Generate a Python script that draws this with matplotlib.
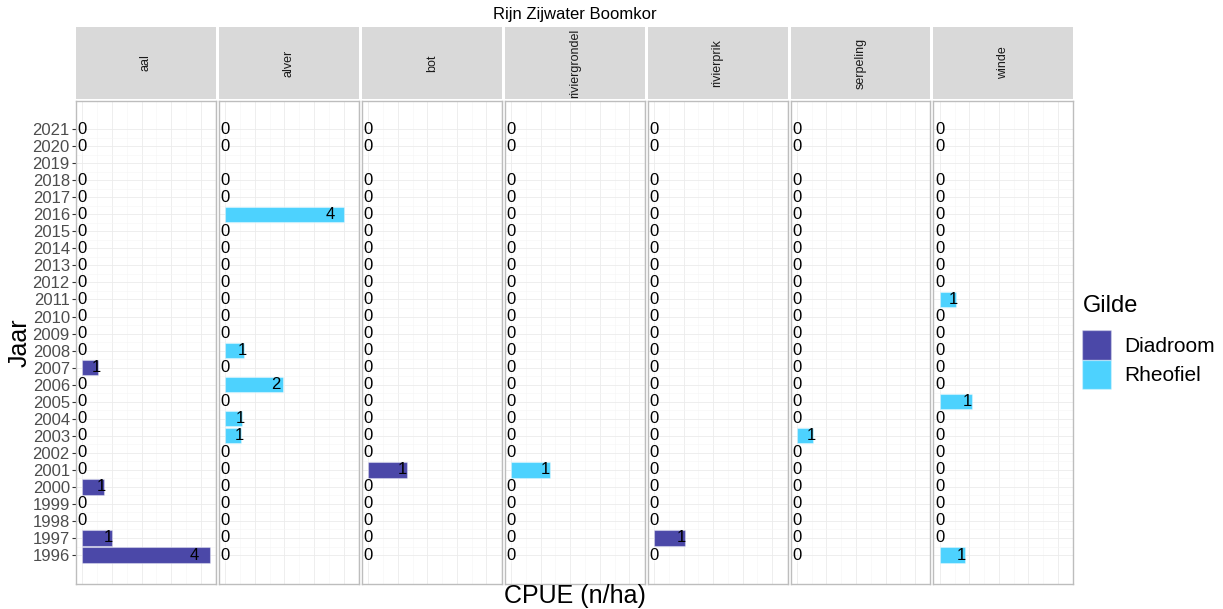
import matplotlib
matplotlib.use("Agg")
import matplotlib.pyplot as plt
from matplotlib.patches import Patch
import numpy as np

plt.rcParams['font.family'] = ['Liberation Sans', 'DejaVu Sans']

years = list(range(1996, 2022))
soorten = ["aal", "alver", "bot", "riviergrondel", "rivierprik", "serpeling", "winde"]
gilde = ["Diadroom", "Rheofiel", "Diadroom", "Rheofiel", "Diadroom", "Rheofiel", "Rheofiel"]
kleuren = {"Diadroom": "#4B48A8", "Rheofiel": "#4DD2FE"}

nan = np.nan
# CPUE per jaar (1996..2021), 2019 ontbreekt
aal = [4.3, 1.0, 0, 0, 0.74, 0, 0, 0, 0, 0, 0, 0.52, 0, 0, 0, 0, 0, 0, 0, 0, 0, 0, 0, nan, 0, 0]
alver = [0, 0, 0, 0, 0, 0, 0, 0.54, 0.57, 0, 1.96, 0, 0.64, 0, 0, 0, 0, 0, 0, 0, 4.02, 0, 0, nan, 0, 0]
bot = [0, 0, 0, 0, 0, 1.32, 0, 0, 0, 0, 0, 0, 0, 0, 0, 0, 0, 0, 0, 0, 0, 0, 0, nan, 0, 0]
riviergrondel = [0, 0, 0, 0, 0, 1.32, 0, 0, 0, 0, 0, 0, 0, 0, 0, 0, 0, 0, 0, 0, 0, 0, 0, nan, 0, 0]
rivierprik = [0, 1.05, 0, 0, 0, 0, 0, 0, 0, 0, 0, 0, 0, 0, 0, 0, 0, 0, 0, 0, 0, 0, 0, nan, 0, 0]
serpeling = [0, 0, 0, 0, 0, 0, 0, 0.54, 0, 0, 0, 0, 0, 0, 0, 0, 0, 0, 0, 0, 0, 0, 0, nan, 0, 0]
winde = [0.84, 0, 0, 0, 0, 0, 0, 0, 0, 1.08, 0, 0, 0, 0, 0, 0.54, 0, 0, 0, 0, 0, 0, 0, nan, 0, 0]
waarden = [aal, alver, bot, riviergrondel, rivierprik, serpeling, winde]

W, H = 1223, 609
fig = plt.figure(figsize=(W / 100, H / 100), dpi=100)

xmax = np.nanmax([np.nanmax(v) for v in waarden])
xlim = (-0.05 * xmax, 1.05 * xmax)

left0 = 76
pw = 139.9
gap = 3.0
ptop, pbot = 101, 584
stop, sbot = 27, 99

for i, (naam, vals) in enumerate(zip(soorten, waarden)):
    x0 = left0 + i * (pw + gap)
    ax = fig.add_axes([x0 / W, (H - pbot) / H, pw / W, (pbot - ptop) / H])
    kleur = kleuren[gilde[i]]
    vals = np.array(vals, dtype=float)
    mask = ~np.isnan(vals)
    yr = np.array(years)
    ax.barh(yr[mask], vals[mask], height=0.9, color=kleur,
            edgecolor=(1, 1, 1, 0.35), linewidth=0.8, zorder=2)
    for y, v in zip(yr[mask], vals[mask]):
        ax.text(0.88 * v, y, f"{int(round(v))}", ha="center", va="center",
                fontsize=12, color="black", zorder=3)
    ax.set_xlim(xlim)
    ax.set_ylim(1996 - 1.7, 2021 + 1.65)
    ax.set_xticks(np.arange(0, 5, 1))
    ax.set_xticks(np.arange(0.5, 4.6, 1), minor=True)
    ax.set_yticks(years)
    ax.set_yticks(np.arange(1996.5, 2021, 1), minor=True)
    ax.grid(which="major", color="#EBEBEB", linewidth=0.6, zorder=0)
    ax.grid(which="minor", color="#F5F5F5", linewidth=0.4, zorder=0)
    ax.set_axisbelow(True)
    ax.tick_params(axis="x", which="both", length=0, labelbottom=False)
    ax.tick_params(axis="y", which="minor", length=0)
    if i == 0:
        ax.set_yticklabels([str(y) for y in years])
        ax.tick_params(axis="y", which="major", length=3, color="#333333",
                       labelsize=12, labelcolor="#4D4D4D", pad=1.5)
    else:
        ax.tick_params(axis="y", which="major", length=0, labelleft=False)
    for s in ax.spines.values():
        s.set_color("#BDBDBD")
        s.set_linewidth(1.0)

    sax = fig.add_axes([x0 / W, (H - sbot) / H, pw / W, (sbot - stop) / H])
    sax.set_facecolor("#D9D9D9")
    sax.set_xticks([])
    sax.set_yticks([])
    for s in sax.spines.values():
        s.set_visible(False)
    sax.text(0.5, 0.5, naam, rotation=90, ha="center", va="center",
             fontsize=9, color="#1A1A1A", transform=sax.transAxes)

fig.text(575 / W, 1 - 15 / H, "Rijn Zijwater Boomkor", ha="center", va="center",
         fontsize=12)
fig.text(575 / W, 1 - 596 / H, "CPUE (n/ha)", ha="center", va="center", fontsize=18)
fig.text(20 / W, 1 - 343 / H, "Jaar", ha="center", va="center", fontsize=18,
         rotation=90)

fig.text(1083 / W, 1 - 306 / H, "Gilde", ha="left", va="center", fontsize=17)
handles = [Patch(facecolor=kleuren[g], edgecolor=(1, 1, 1, 0.35), label=g)
           for g in ["Diadroom", "Rheofiel"]]
leg = fig.legend(handles=handles, loc="upper left",
                 bbox_to_anchor=(1080 / W, 1 - 328 / H), frameon=False,
                 fontsize=15, handlelength=1.4, handleheight=1.8,
                 labelspacing=0.0, handletextpad=0.6, borderaxespad=0,
                 borderpad=0.1)

fig.savefig("out.png", dpi=100)
